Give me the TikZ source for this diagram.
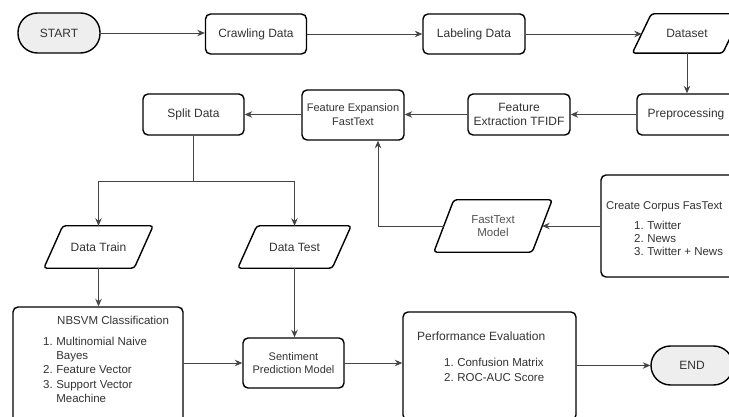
\documentclass[tikz,border=0pt]{standalone}
\usepackage{fontspec}
\setmainfont{Liberation Sans}
\usetikzlibrary{arrows.meta,calc}
\definecolor{txt}{HTML}{333333}
\definecolor{lnc}{HTML}{444444}
\definecolor{termfill}{HTML}{EEEEEE}
\begin{document}
\begin{tikzpicture}[x=1pt,y=-1pt,
  box/.style={draw=black, line width=1.4pt, rounded corners=5pt, fill=white, text=txt, align=center, inner sep=0pt, font=\fontsize{12}{14.5}\selectfont},
  termbox/.style={box, fill=termfill, rounded corners=19.5pt},
  pnode/.style={inner sep=0pt, text=txt, align=center, font=\fontsize{12}{14}\selectfont},
  pline/.style={draw=black, line width=1.4pt, rounded corners=3pt},
  arr/.style={draw=lnc, line width=0.9pt, -{Stealth[length=7.5pt,width=6.5pt]}},
  lnk/.style={draw=lnc, line width=0.9pt},
  txtn/.style={text=txt, inner sep=0pt, anchor=west, align=left}]
\useasboundingbox (0,0) rectangle (729,417);
\clip (0,0) rectangle (729,417);

% top row
\node[termbox, minimum width=82pt, minimum height=40pt] (start) at (59,33) {START};
\node[box, minimum width=101pt, minimum height=40pt] (crawl) at (256,34) {Crawling Data};
\node[box, minimum width=102pt, minimum height=40pt] (label) at (474,34) {Labeling Data};
\node[pnode, minimum width=90pt, minimum height=39pt] (dataset) at (687,33.5) {Dataset};
\draw[pline] ([xshift=-9.5pt]dataset.south west) -- ([xshift=9.5pt]dataset.north west) -- ([xshift=9.5pt]dataset.north east) -- ([xshift=-9.5pt]dataset.south east) -- cycle;

% second row
\node[box, minimum width=98pt, minimum height=41pt] (prep) at (686,114.5) {Preprocessing};
\node[box, minimum width=102pt, minimum height=41pt] (fext) at (519,114.5) {Feature\\Extraction TFIDF};
\node[box, minimum width=102pt, minimum height=50pt, font=\fontsize{11}{14}\selectfont] (fexp) at (353,115) {Feature Expansion\\FastText};
\node[box, minimum width=101pt, minimum height=41pt] (split) at (193.5,114.5) {Split Data};

% data train / test
\node[pnode, minimum width=90pt, minimum height=42pt] (train) at (98.5,247) {Data Train};
\draw[pline] ([xshift=-9.5pt]train.south west) -- ([xshift=9.5pt]train.north west) -- ([xshift=9.5pt]train.north east) -- ([xshift=-9.5pt]train.south east) -- cycle;
\node[pnode, minimum width=94pt, minimum height=42pt] (test) at (294.5,247) {Data Test};
\draw[pline] ([xshift=-9.5pt]test.south west) -- ([xshift=9.5pt]test.north west) -- ([xshift=9.5pt]test.north east) -- ([xshift=-9.5pt]test.south east) -- cycle;

% fasttext model
\node[pnode, minimum width=98pt, minimum height=52pt, font=\fontsize{11.5}{13}\selectfont, text=txt!85] (ftm) at (493,226) {FastText\\Model};
\draw[pline] ([xshift=-10pt]ftm.south west) -- ([xshift=10pt]ftm.north west) -- ([xshift=10pt]ftm.north east) -- ([xshift=-10pt]ftm.south east) -- cycle;

% corpus box
\node[box, minimum width=139pt, minimum height=102pt] (corpus) at (670.5,226) {};
\node[txtn, font=\fontsize{11.3}{14}\selectfont] (corpust) at (606,207) {Create Corpus FasText};
\node[txtn, font=\fontsize{11.5}{13}\selectfont] (corpusl) at (634,240) {\begin{tabular}{@{}l@{\hspace{3.5pt}}l@{}}1.&Twitter\\2.&News\\3.&Twitter + News\end{tabular}};

% bottom row
\node[box, minimum width=170pt, minimum height=118pt] (nbsvm) at (98,366) {};
\node[txtn, font=\fontsize{11.5}{14}\selectfont] (nbsvmt) at (57,320) {NBSVM Classification};
\node[txtn, font=\fontsize{11.5}{14.2}\selectfont] (nbsvml) at (43,371) {\begin{tabular}{@{}l@{\hspace{3.5pt}}l@{}}1.&Multinomial Naive\\&Bayes\\2.&Feature Vector\\3.&Support Vector\\&Meachine\end{tabular}};

\node[box, minimum width=101pt, minimum height=50pt, font=\fontsize{11}{12.5}\selectfont] (sent) at (293.5,363) {Sentiment\\Prediction Model};

\node[box, minimum width=173pt, minimum height=108pt] (perf) at (489.5,366) {};
\node[txtn, font=\fontsize{12}{14}\selectfont] (perft) at (417,336) {Performance Evaluation};
\node[txtn, font=\fontsize{11.5}{15}\selectfont] (perfl) at (444,371) {\begin{tabular}{@{}l@{\hspace{3.5pt}}l@{}}1.&Confusion Matrix\\2.&ROC-AUC Score\end{tabular}};

\node[termbox, minimum width=82pt, minimum height=39pt] (end) at (692,365.5) {END};

% connectors
\draw[arr] (start.east) -- (crawl.west |- start.east);
\draw[arr] (crawl.east) -- (label.west);
\draw[arr] (label.east) -- (dataset.west |- label.east);
\draw[arr] (dataset.south) -- (dataset.south |- prep.north);
\draw[arr] (prep.west) -- (fext.east);
\draw[arr] (fext.west) -- (fexp.east |- fext.west);
\draw[arr] (fexp.west |- split.east) -- (split.east);
\coordinate (fork) at (193.5,181);
\draw[lnk] (split.south) -- (fork);
\draw[arr] (fork) -| (train.north);
\draw[arr] (fork) -| (test.north);
\draw[arr] (train.south) -- (train.south |- nbsvm.north);
\draw[arr] (test.south) -- (test.south |- sent.north);
\draw[arr] (nbsvm.east |- sent.west) -- (sent.west);
\draw[arr] (sent.east) -- (sent.east -| perf.west);
\draw[arr] (perf.east |- end.west) -- (end.west);
\draw[arr] (corpus.west) -- (ftm.east);
\coordinate (bend) at (378,226);
\draw[arr] (ftm.west) -- (bend) -- (bend |- fexp.south);
\end{tikzpicture}
\end{document}
